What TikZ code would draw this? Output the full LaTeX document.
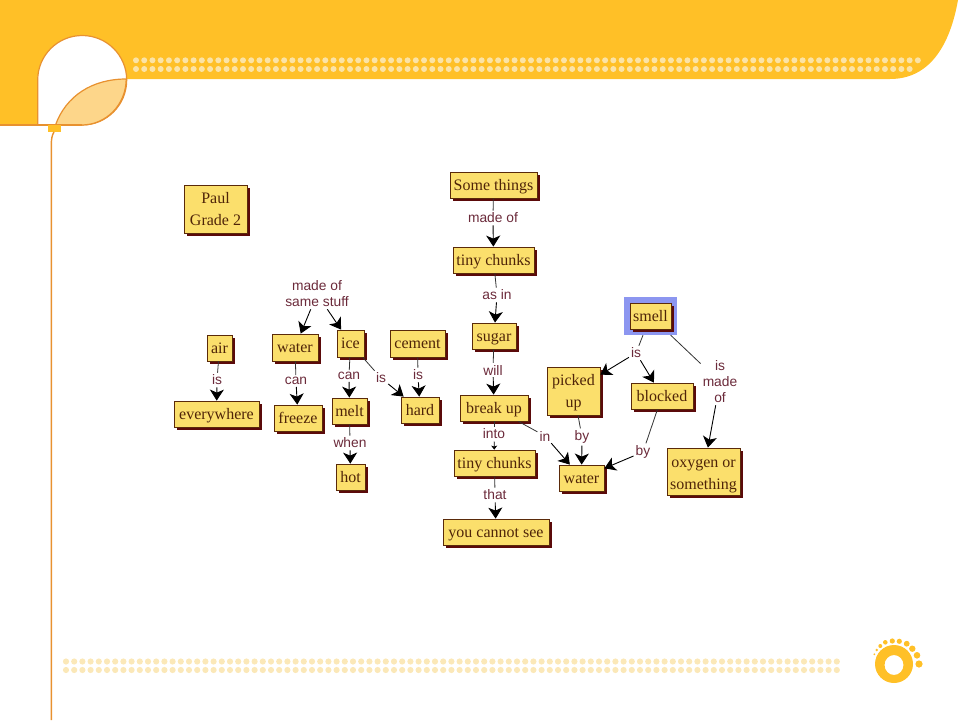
\documentclass[tikz,border=0pt]{standalone}
\usepackage{fontspec}
\setmainfont{Liberation Serif}
\newfontfamily\linkfamily{Liberation Sans}
\usetikzlibrary{arrows.meta, shadows}
\definecolor{bandyellow}{HTML}{FFC027}
\definecolor{bandline}{HTML}{E8912F}
\definecolor{leafyellow}{HTML}{FDD68A}
\definecolor{dotlight}{HTML}{FBE3A6}
\definecolor{dotpale}{HTML}{FBE8B8}
\definecolor{boxfill}{HTML}{FBDF6C}
\definecolor{boxline}{HTML}{5A2A0A}
\definecolor{boxshadow}{HTML}{5B0A0A}
\definecolor{boxtext}{HTML}{4F2408}
\definecolor{linktext}{HTML}{6B2A3A}
\definecolor{selectblue}{HTML}{8C96F0}
\tikzset{
    concept/.style={draw=boxline, line width=0.8pt, fill=boxfill, text=boxtext, inner sep=0pt, align=center,
        font=\fontsize{16}{22}\selectfont,
        general shadow={shadow xshift=3pt, shadow yshift=-3pt, fill=boxshadow}},
    single/.style={concept, text height=12pt, text depth=2pt},
    link/.style={text=linktext, inner sep=2pt, align=center, font=\linkfamily\fontsize{13.8}{16}\selectfont},
    line/.style={line width=0.8pt, black!80},
    arrow/.style={line width=0.9pt, black, -{Stealth[width=14pt, length=11pt, inset=3pt]}},
}
\begin{document}
\begin{tikzpicture}[x=1pt, y=-1pt]
            \useasboundingbox (0,0) rectangle (960,720);

            % slide background
            \fill[bandyellow] (0,0) -- (958,0) .. controls (950,45) and (930,79) .. (890,79) -- (82,79) -- (82,125) -- (0,125) -- cycle;
            \filldraw[fill=white, draw=bandline, line width=1.2pt] (37.7,125) -- (37.7,80) arc (180:360:44.5) arc (0:90:44.5 and 45) -- cycle;
            \filldraw[fill=leafyellow, draw=bandline, line width=1.2pt] (55.5,125) .. controls (66,96) and (92,79) .. (126.2,79) arc (0:90:44.5 and 46) -- cycle;
            \draw[bandline, line width=1.2pt] (0,125) -- (82,125);
            \fill[bandyellow] (48,125) rectangle (61,132);
            \draw[bandline, line width=1.4pt] (51.3,720) -- (51.3,146) .. controls (51.3,139) and (52,135) .. (54,132);
            \foreach \i in {0,...,95} {
                \fill[dotlight] (136+8.23*\i,60.3) circle (3);
                \ifnum\i<95 \fill[dotlight] (136+8.23*\i,69) circle (3); \fi
            }
            \foreach \i in {0,...,94} {
                \fill[dotpale] (66+8.2*\i,661.5) circle (3.1);
                \fill[dotpale] (66+8.2*\i,670) circle (3.1);
            }

            % logo
            \fill[bandyellow, even odd rule] (894,664) circle (19) (894,665) ellipse (9.5 and 10);
            \foreach \x/\y/\r in {919/664/3.6, 917/655.3/3.3, 912.3/648.7/3.2, 906.7/643.7/2.9, 899.3/641.3/2.6, 892.3/641/2.6, 885.3/642.3/2.3, 880.3/646/2, 876.7/650/1.4, 874.3/654.3/1} {
                \fill[bandyellow] (\x,\y) circle (\r);
            }

            % concepts
            \node[concept, minimum width=63pt, minimum height=48pt] (paul) at (215.5,209) {Paul\\Grade 2};
            \node[single, minimum width=87pt, minimum height=26pt] (somethings) at (493.5,185) {Some things};
            \node[single, minimum width=81pt, minimum height=26pt] (tinychunks) at (493.5,260) {tiny chunks};
            \node[single, minimum width=25pt, minimum height=26pt] (air) at (219.5,348) {air};
            \node[single, minimum width=85pt, minimum height=26pt] (everywhere) at (216.5,414) {everywhere};
            \node[single, minimum width=46pt, minimum height=27pt] (waterone) at (295,347.5) {water};
            \node[single, minimum width=48pt, minimum height=26pt] (freeze) at (298,418) {freeze};
            \node[single, minimum width=27pt, minimum height=27pt] (ice) at (350.5,343.5) {ice};
            \node[single, minimum width=55pt, minimum height=27pt] (cement) at (417.5,343.5) {cement};
            \node[single, minimum width=35pt, minimum height=26pt] (melt) at (349.5,411) {melt};
            \node[single, minimum width=38pt, minimum height=26pt] (hard) at (420,410) {hard};
            \node[single, minimum width=29pt, minimum height=26pt] (hot) at (350.5,477) {hot};
            \node[single, minimum width=44pt, minimum height=26pt] (sugar) at (494,336) {sugar};
            \node[single, minimum width=68pt, minimum height=26pt] (breakup) at (494,408) {break up};
            \node[single, minimum width=81pt, minimum height=26pt] (tinychunkstwo) at (494.5,463) {tiny chunks};
            \node[single, minimum width=106pt, minimum height=26pt] (cannotsee) at (496,532) {you cannot see};
            \node[concept, minimum width=53pt, minimum height=48pt] (pickedup) at (573.5,391) {\rule{0pt}{14pt}picked\\up};
            \node[single, minimum width=62pt, minimum height=26pt] (blocked) at (662,396) {blocked};
            \node[single, minimum width=45pt, minimum height=26pt] (watertwo) at (581.5,478) {water};
            \node[concept, minimum width=73pt, minimum height=47pt] (oxygen) at (703.5,471.5) {\rule{0pt}{17pt}oxygen or\\something};
            \node[fill=selectblue, minimum width=53pt, minimum height=38pt, inner sep=0pt] (smellmark) at (650.5,316) {};
            \node[single, minimum width=41pt, minimum height=26pt] (smell) at (650.5,316) {smell};

            % linking words
            \node[link] (madeofone) at (493,218) {made of};
            \node[link] (asin) at (497,295) {as in};
            \node[link] (samestuff) at (317,294) {made of\\same stuff};
            \node[link] (isair) at (217,380) {is};
            \node[link] (canwater) at (296,381) {can};
            \node[link] (canice) at (349,376) {can};
            \node[link] (isice) at (381,378) {is};
            \node[link] (iscement) at (418,375) {is};
            \node[link] (whenmelt) at (350,443) {when};
            \node[link] (will) at (493,370) {will};
            \node[link] (into) at (494,434) {into};
            \node[link] (that) at (495,495) {that};
            \node[link] (inwater) at (545,436) {in};
            \node[link] (bypicked) at (582,437) {by};
            \node[link] (byblocked) at (643,452) {by};
            \node[link] (issmell) at (636,353) {is};
            \node[link] (ismadeof) at (720,382) {is\\made\\of};

            % connectors
            \draw[line] (somethings) -- (madeofone);
            \draw[arrow] (madeofone) -- (tinychunks);
            \draw[line] (tinychunks) -- (asin);
            \draw[arrow] (asin) -- (sugar);
            \draw[line] (sugar) -- (will);
            \draw[arrow] (will) -- (breakup);
            \draw[line] (breakup) -- (into);
            \draw[line width=0.7pt, -{Stealth[width=6pt, length=4pt, inset=1pt]}] (into) -- (tinychunkstwo);
            \draw[line] (tinychunkstwo) -- (that);
            \draw[arrow] (that) -- (cannotsee);
            \draw[line] (breakup) -- (inwater);
            \draw[arrow] (inwater) -- (watertwo);

            \draw[line] (air) -- (isair);
            \draw[arrow] (isair) -- (everywhere);
            \draw[arrow] (samestuff) -- (waterone);
            \draw[arrow] (samestuff) -- (ice);
            \draw[line] (waterone) -- (canwater);
            \draw[arrow] (canwater) -- (freeze);
            \draw[line] (ice) -- (canice);
            \draw[arrow] (canice) -- (melt);
            \draw[line] (melt) -- (whenmelt);
            \draw[arrow] (whenmelt) -- (hot);
            \draw[line] (ice) -- (isice);
            \draw[arrow] (isice) -- (hard);
            \draw[line] (cement) -- (iscement);
            \draw[arrow] (iscement) -- (hard);

            \draw[line] (smellmark) -- (issmell);
            \draw[arrow] (issmell) -- (pickedup);
            \draw[arrow] (issmell) -- (blocked);
            \draw[line] (smellmark) -- (ismadeof);
            \draw[arrow] (ismadeof) -- (oxygen);
            \draw[line] (pickedup) -- (bypicked);
            \draw[arrow] (bypicked) -- (watertwo);
            \draw[line] (blocked) -- (byblocked);
            \draw[arrow] (byblocked) -- (watertwo);
        \end{tikzpicture}
\end{document}
